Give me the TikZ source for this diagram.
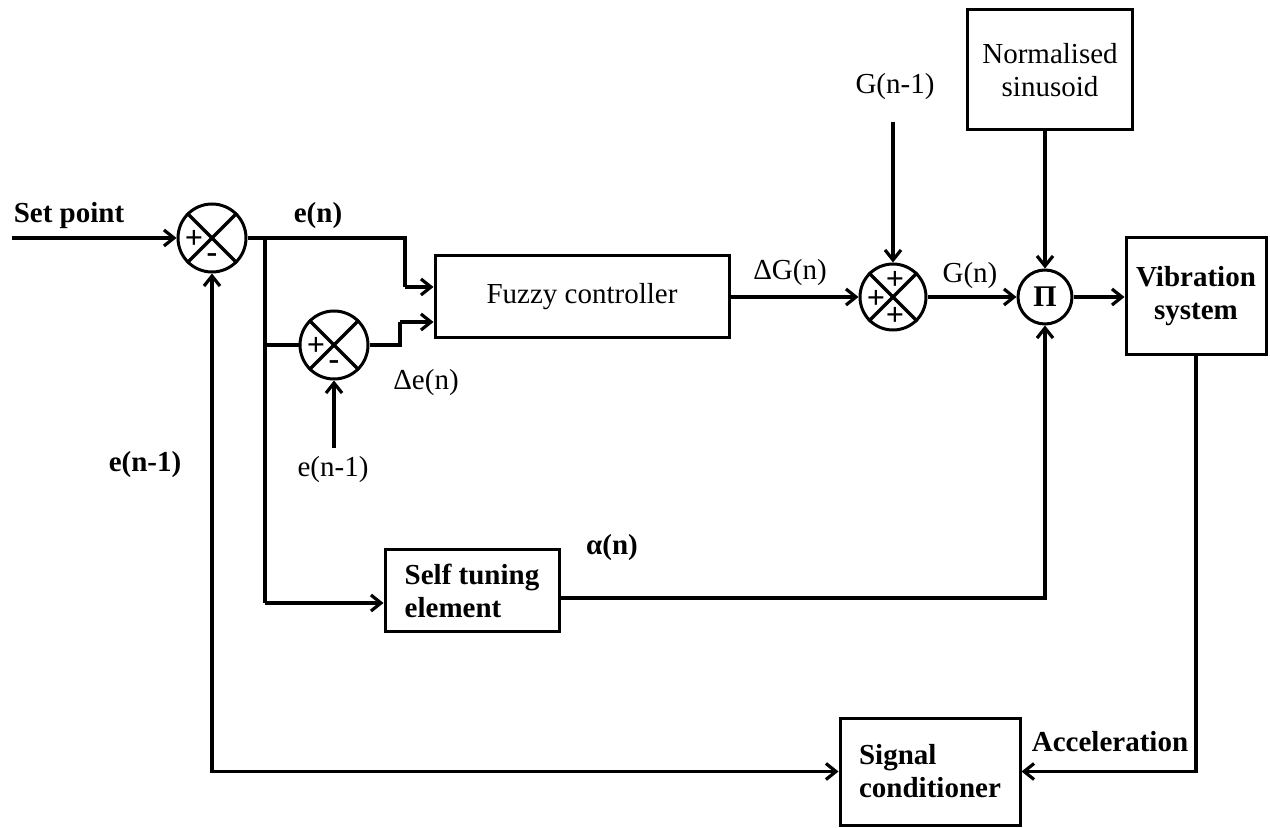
\documentclass[tikz,border=0pt]{standalone}
\usepackage{fontspec}
\setmainfont{Liberation Serif}
\usetikzlibrary{arrows.meta}
\begin{document}
\begin{tikzpicture}[x=0.5pt,y=-0.5pt,
  every node/.style={font=\fontsize{14.5}{16.5}\selectfont},
  box/.style={draw, line width=1.5pt, inner sep=0pt},
  sumj/.style={draw, circle, line width=1.5pt, minimum size=34pt, inner sep=0pt},
  wire/.style={line width=1.6pt},
  arr/.style={wire, -{Straight Barb[length=5pt,width=8pt]}},
  bl/.style={font=\fontsize{14.5}{16.5}\selectfont\bfseries},
  sgn/.style={font=\fontsize{16}{16}\selectfont\bfseries, inner sep=0pt}
]
\useasboundingbox (0,0) rectangle (1270,828);

% summing junction 1
\node[sumj] (s1) at (212,238) {};
\draw[wire] (s1.north west) -- (s1.south east) (s1.north east) -- (s1.south west);
\node[sgn] (s1p) at (194,239) {+};
\node[sgn] (s1m) at (212,258) {-};

\node[bl] (sp) at (69,216) {Set point};
\coordinate (spin) at (12,238);
\draw[arr] (spin) -- (s1.west);

% fuzzy controller
\node[box, minimum width=147pt, minimum height=41pt] (fz) at (582,297) {Fuzzy controller};

\node[bl] (en) at (318,216) {e(n)};
\coordinate (b1) at (265,238);
\coordinate (k1) at (405,238);
\coordinate (k1b) at (405,287);
\draw[wire] (s1.east) -- (k1) -- (k1b);
\draw[arr] (k1b) -- (k1b -| fz.west);

% summing junction 2
\node[sumj] (s2) at (334,345) {};
\draw[wire] (s2.north west) -- (s2.south east) (s2.north east) -- (s2.south west);
\node[sgn] (s2p) at (316,346) {+};
\node[sgn] (s2m) at (334,365) {-};

\coordinate (b2) at (265,345);
\coordinate (b3) at (265,603);
\draw[wire] (b1) -- (b3);
\draw[wire] (b2) -- (s2.west);

\coordinate (k2) at (400,345);
\coordinate (k2b) at (400,322);
\draw[wire] (s2.east) -- (k2) -- (k2b);
\draw[arr] (k2b) -- (k2b -| fz.west);
\node (de) at (426,383) {Δe(n)};

\node (en1b) at (333,470) {e(n-1)};
\coordinate (s2in) at (334,448);
\draw[arr] (s2in) -- (s2.south);

% self tuning element
\node[box, minimum width=87pt, minimum height=41pt, align=left, bl] (st) at (472,591) {Self tuning\\element};
\draw[arr] (b3) -- (b3 -| st.west);

% summing junction 3
\node[sumj, minimum size=33pt] (s3) at (893,297) {};
\draw[wire] (s3.north west) -- (s3.south east) (s3.north east) -- (s3.south west);
\node[sgn] (s3t) at (895,280) {+};
\node[sgn] (s3l) at (876,299) {+};
\node[sgn] (s3b) at (895,316) {+};
\draw[arr] (fz.east) -- (fz.east -| s3.west);
\node (dg) at (790,273) {ΔG(n)};

\node (gn1) at (895,87) {G(n-1)};
\coordinate (g1) at (893,122);
\draw[arr] (g1) -- (s3.north);

% product junction
\node[sumj, minimum size=27pt, font=\fontsize{15}{16.5}\selectfont\bfseries] (pi) at (1045,297) {Π};
\draw[arr] (s3.east) -- (pi.west);
\node (gn) at (970,276) {G(n)};

% normalised sinusoid
\node[box, minimum width=82.5pt, minimum height=60pt, align=center] (ns) at (1050,70) {Normalised\\sinusoid};
\draw[arr] (ns.south -| pi) -- (pi.north);

% vibration system
\node[box, minimum width=70pt, minimum height=58.5pt, align=center, bl] (vib) at (1196,296.5) {Vibration\\system};
\draw[arr] (pi.east) -- (pi.east -| vib.west);

% alpha path
\coordinate (a0) at (558,598);
\draw[arr] (a0) -| (pi.south);
\node[bl] (al) at (612,548) {α(n)};

% signal conditioner
\node[box, minimum width=90pt, minimum height=53.5pt, align=left, bl] (sig) at (930,771.5) {Signal\\conditioner};
\draw[arr] (vib.south) |- (sig.east);
\node[bl] (acc) at (1110,742) {Acceleration};

% feedback
\draw[wire, {Straight Barb[length=5pt,width=8pt]}-{Straight Barb[length=5pt,width=8pt]}] (s1.south) |- (sig.west);
\node[bl] (en1a) at (145,465) {e(n-1)};
\end{tikzpicture}
\end{document}
